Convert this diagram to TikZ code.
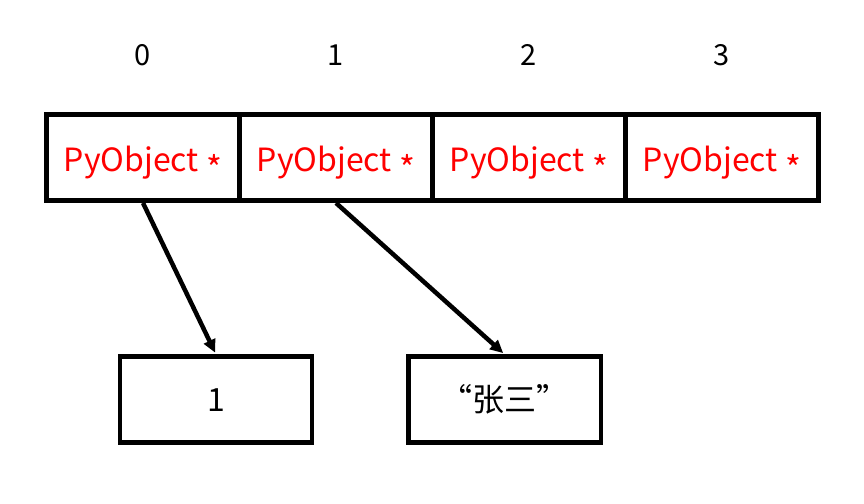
\documentclass[tikz,border=0pt]{standalone}
\usepackage{fontspec}
\setmainfont{Noto Sans CJK SC}
\usetikzlibrary{arrows.meta}
\newcommand{\pyobj}{PyObject \raisebox{-0.3em}{\fontsize{34}{36}\selectfont *}}
\begin{document}
\begin{tikzpicture}[x=1pt,y=-1pt,
  cell/.style={draw,line width=4.5pt,minimum width=193pt,minimum height=86.2pt,inner sep=0pt,text=red,text height=30pt,text depth=2pt,font=\fontsize{32}{36}\selectfont},
  valbox/.style={draw,line width=4.5pt,minimum width=192.3pt,minimum height=85.8pt,inner sep=0pt,font=\fontsize{32}{36}\selectfont},
  idx/.style={font=\fontsize{29}{32}\selectfont},
  ptr/.style={line width=4.5pt,-{Triangle[length=13pt,width=12pt]},shorten >=2pt}]
\useasboundingbox (0,0) rectangle (864,503);
\node[cell] (c0) at (143,157.6) {\pyobj};
\node[cell] (c1) at (336,157.6) {\pyobj};
\node[cell] (c2) at (529,157.6) {\pyobj};
\node[cell] (c3) at (722,157.6) {\pyobj};
\node[idx] (i0) at (143,55) {0};
\node[idx] (i1) at (336,55) {1};
\node[idx] (i2) at (529,55) {2};
\node[idx] (i3) at (722,55) {3};
\node[valbox] (b1) at (216,399.6) {1};
\node[valbox] (b2) at (504.7,399.6) {“张三”};
\draw[ptr] (c0.south) -- (b1.north);
\draw[ptr] (c1.south) -- (b2.north);
\end{tikzpicture}
\end{document}
